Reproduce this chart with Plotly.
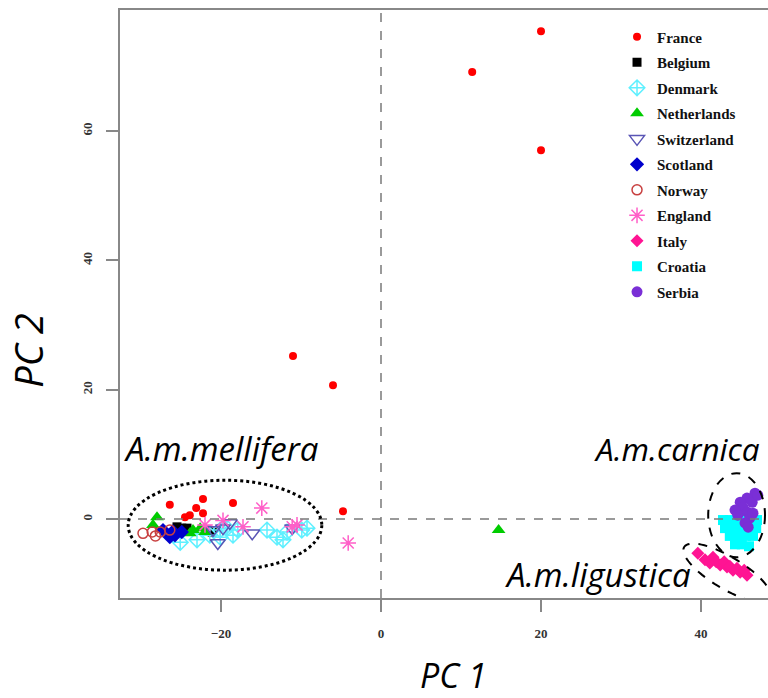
import numpy as np
import plotly.graph_objects as go

# ---------------- data ----------------
france_x = [20.0, 11.4, 20.0, -11.0, -6.0, -4.75, -26.4, -22.25, -23.1, -22.25, -23.9, -24.5, -18.5]
france_y = [75.4, 69.1, 57.0, 25.2, 20.7, 1.2, 2.2, 3.1, 1.7, 0.9, 0.6, 0.3, 2.5]

belgium_x = [-25.5, -24.9, -24.25, -21.75, -21.1]
belgium_y = [-1.2, -1.4, -1.4, -1.7, -2.0]

denmark_x = [-25.1, -23.0, -21.4, -20.1, -19.25, -18.5, -17.9, -14.25, -13.0, -12.25, -11.75, -9.9, -9.25, -20.1]
denmark_y = [-3.6, -3.2, -2.5, -1.7, -1.4, -2.5, -1.7, -1.7, -2.8, -3.2, -2.0, -1.7, -1.4, -2.8]

netherlands_x = [-28.0, -28.5, -23.5, -22.6, -22.0, -23.9, 14.7]
netherlands_y = [0.3, -0.9, -1.7, -1.4, -2.0, -2.2, -1.7]

switzerland_x = [-20.4, -16.1, -19.75, -21.0, -18.9, -11.1]
switzerland_y = [-3.7, -2.2, -1.4, -1.7, -0.6, -1.4]

scotland_x = [-27.25, -25.75, -26.4, -24.9, -26.0]
scotland_y = [-1.7, -2.5, -2.8, -2.0, -1.9]

norway_x = [-29.75, -28.6, -27.6, -26.4, -28.2]
norway_y = [-2.2, -2.0, -2.0, -1.7, -2.6]

england_x = [-14.9, -19.75, -17.25, -11.1, -10.5, -4.1, -22.0]
england_y = [1.7, -0.2, -1.2, -1.2, -0.9, -3.7, -0.9]

italy_x = [39.6, 40.5, 41.1, 41.5, 42.4, 43.25, 44.0, 44.9, 45.75, 41.9, 42.9, 43.6, 44.5, 45.4]
italy_y = [-5.3, -6.3, -6.8, -5.9, -7.1, -7.4, -7.9, -8.2, -8.7, -6.6, -6.6, -7.3, -7.6, -7.9]

croatia_x = [42.75, 43.6, 44.5, 45.4, 46.25, 47.0, 43.0, 44.0, 45.0, 46.0, 46.9,
             43.6, 44.6, 45.6, 46.5, 44.25, 45.1, 46.0]
croatia_y = [-0.15, -0.15, -0.15, -0.15, -0.15, -0.15, -1.4, -1.4, -1.4, -1.4, -1.4,
             -2.6, -2.6, -2.6, -2.6, -3.9, -3.9, -4.2]

serbia_x = [46.75, 45.75, 44.9, 46.4, 45.25, 44.25, 45.75, 44.6, 46.1, 45.5, 45.9, 47.1, 46.5]
serbia_y = [4.0, 3.25, 2.6, 2.6, 1.85, 1.4, 1.1, 0.6, 0.15, -0.6, -1.25, 3.7, 0.9]

x_ticks = [-20, 0, 20, 40]
y_ticks = [0, 20, 40, 60]
x_range = [-32.625, 48.375]
y_range = [-12.2, 78.7]

# ---------------- figure ----------------
series = [
    ("France", france_x, france_y, "circle", "#ff0000", 8),
    ("Belgium", belgium_x, belgium_y, "square", "#000000", 9),
    ("Denmark", denmark_x, denmark_y, "diamond-cross-open", "#5ff0ff", 12),
    ("Netherlands", netherlands_x, netherlands_y, "triangle-up", "#00cc00", 12),
    ("Switzerland", switzerland_x, switzerland_y, "triangle-down-open", "#5a55b5", 13),
    ("Scotland", scotland_x, scotland_y, "diamond", "#0000cc", 11),
    ("Norway", norway_x, norway_y, "circle-open", "#c84040", 10),
    ("England", england_x, england_y, "asterisk-open", "#ff5fc8", 13),
    ("Italy", italy_x, italy_y, "diamond", "#ff1493", 10),
    ("Croatia", croatia_x, croatia_y, "square", "#00ffff", 10),
    ("Serbia", serbia_x, serbia_y, "circle", "#7a2fd6", 11),
]

fig = go.Figure()
for name, xs, ys, sym, col, sz in series:
    fig.add_trace(go.Scatter(
        x=xs, y=ys, mode="markers", name=name, legendgroup=name,
        marker=dict(symbol=sym, color=col, size=sz,
                    line=dict(color=col, width=1.5 if "open" in sym else 0)),
    ))

# reference lines
fig.add_shape(type="line", xref="x", yref="paper", x0=0, x1=0, y0=0, y1=1,
              line=dict(color="#7a7a7a", width=1.5, dash="dash"))
fig.add_shape(type="line", xref="paper", yref="y", x0=0, x1=1, y0=0, y1=0,
              line=dict(color="#7a7a7a", width=1.5, dash="dash"))

# ellipses
fig.add_shape(type="circle", xref="x", yref="y", x0=-31.6, x1=-7.4, y0=-7.9, y1=6.0,
              line=dict(color="black", width=3, dash="dot"))
fig.add_shape(type="circle", xref="x", yref="y", x0=40.9, x1=48.0, y0=-5.9, y1=7.1,
              line=dict(color="black", width=2, dash="dash"))

# tilted ellipse (ligustica): parameters in pixel units, converted to data units
pxu_x = 648 / (x_range[1] - x_range[0])
pxu_y = 588 / (y_range[1] - y_range[0])
cx, cy = 43.25, -8.3
a_px, b_px, ang = 50.0, 16.0, np.deg2rad(31)
t = np.linspace(0, 2 * np.pi, 80)
dx = a_px * np.cos(t) * np.cos(ang) - b_px * np.sin(t) * np.sin(ang)
dy = a_px * np.cos(t) * np.sin(ang) + b_px * np.sin(t) * np.cos(ang)
ex = cx + dx / pxu_x
ey = cy - dy / pxu_y
path = "M " + " L ".join(f"{u:.3f},{v:.3f}" for u, v in zip(ex, ey)) + " Z"
fig.add_shape(type="path", xref="x", yref="y", path=path,
              line=dict(color="black", width=2, dash="dash"))

label_font = dict(family="Open Sans", size=33, color="black", style="italic")
fig.add_annotation(x=-32.4, y=10.9, xref="x", yref="y", text="A.m.mellifera",
                   showarrow=False, xanchor="left", yanchor="middle", font=label_font)
fig.add_annotation(x=26.4, y=10.9, xref="x", yref="y", text="A.m.carnica",
                   showarrow=False, xanchor="left", yanchor="middle",
                   font=dict(family="Open Sans", size=31.5, color="black", style="italic"))
fig.add_annotation(x=15.2, y=-8.5, xref="x", yref="y", text="A.m.ligustica",
                   showarrow=False, xanchor="left", yanchor="middle", font=label_font)

title_font = dict(family="Open Sans", size=34, color="black", style="italic")
fig.add_annotation(x=0.515, y=-0.1305, xref="paper", yref="paper", text="PC 1",
                   showarrow=False, xanchor="center", yanchor="middle", font=title_font)
fig.add_annotation(x=-0.142, y=0.422, xref="paper", yref="paper", text="PC 2",
                   showarrow=False, xanchor="center", yanchor="middle", textangle=-90,
                   font=dict(family="Open Sans", size=38, color="black", style="italic"))

tick_font = dict(family="Liberation Serif", size=13, color="#333333", weight="bold")
fig.update_xaxes(range=x_range, tickvals=x_ticks, showgrid=False, zeroline=False,
                 showline=True, linecolor="#888888", linewidth=2, mirror=True,
                 ticks="outside", ticklen=12, tickcolor="#888888", tickwidth=1.5,
                 ticklabelstandoff=10, tickfont=tick_font)
fig.update_yaxes(range=y_range, tickvals=y_ticks, showgrid=False, zeroline=False,
                 showline=True, linecolor="#888888", linewidth=2,
                 ticks="outside", ticklen=12, tickcolor="#888888", tickwidth=1.5,
                 ticklabelstandoff=9, tickangle=-90, tickfont=tick_font)

fig.update_layout(
    width=768, height=698,
    margin=dict(l=120, r=0, t=10, b=100),
    plot_bgcolor="white", paper_bgcolor="white",
    showlegend=True,
    legend=dict(x=0.767, y=0.982, xanchor="left", yanchor="top",
                bgcolor="rgba(0,0,0,0)", borderwidth=0, tracegroupgap=3,
                font=dict(family="Liberation Serif", size=15, color="#111111", weight="bold"),
                itemsizing="trace"),
)

fig.write_html("out.html")
